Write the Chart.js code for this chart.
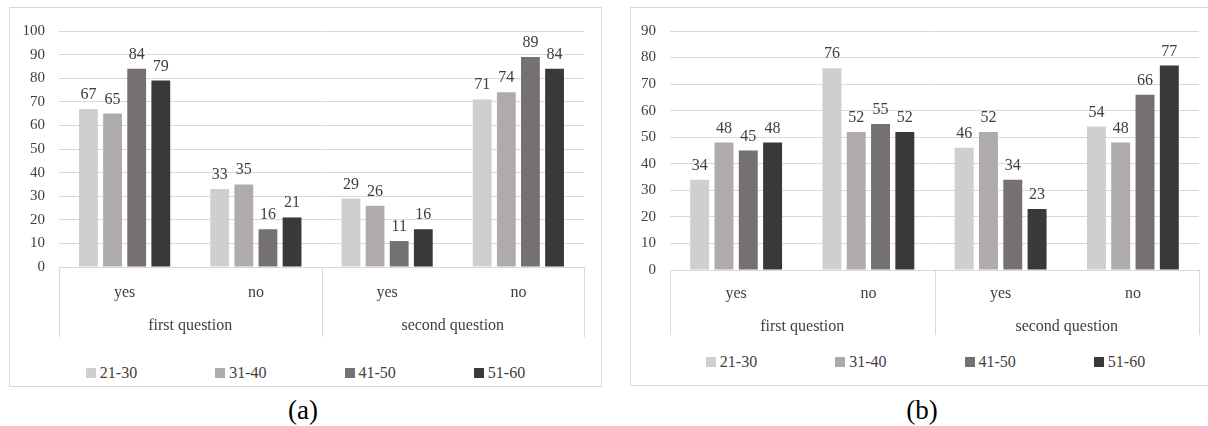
<!DOCTYPE html>
<html><head><meta charset="utf-8">
<script src="https://cdn.jsdelivr.net/npm/chart.js@4"></script>
<style>
body{margin:0;width:1208px;height:426px;overflow:hidden;background:#fff;font-family:"Liberation Serif",serif;position:relative;}
.box{position:absolute;border:1px solid #d9d9d9;box-sizing:border-box;background:#fff;}
.box canvas{position:absolute;left:0;top:0;}
.legend{position:absolute;left:0;right:0;display:flex;justify-content:center;gap:78px;font-family:"Liberation Serif",serif;font-size:16px;line-height:18px;color:#404040;}
.item{display:flex;align-items:center;}
.sw{width:10px;height:10px;margin-right:4px;}
.cap{position:absolute;font-family:"Liberation Serif",serif;font-size:27px;line-height:30px;color:#000;transform:translateX(-50%);}
</style></head>
<body>
<div class="box" id="boxA" style="left:9px;top:7px;width:593px;height:380px;">
  <canvas id="cA" width="590" height="335"></canvas>
  <div class="legend" id="legA" style="top:356px;"></div>
</div>
<div class="box" id="boxB" style="left:630px;top:7px;width:591px;height:379px;">
  <canvas id="cB" width="589" height="333"></canvas>
  <div class="legend" id="legB" style="top:345px;"></div>
</div>
<div class="cap" style="left:303px;top:395px;">(a)</div>
<div class="cap" style="left:922px;top:395px;">(b)</div>
<script>
const categories = ["yes", "no", "yes", "no"];
const questionGroups = ["first question", "second question"];
const seriesNames = ["21-30", "31-40", "41-50", "51-60"];
const seriesColors = ["#d0cece", "#afabab", "#767171", "#3b3838"];

const valuesA_21_30 = [67, 33, 29, 71];
const valuesA_31_40 = [65, 35, 26, 74];
const valuesA_41_50 = [84, 16, 11, 89];
const valuesA_51_60 = [79, 21, 16, 84];

const valuesB_21_30 = [34, 76, 46, 54];
const valuesB_31_40 = [48, 52, 52, 48];
const valuesB_41_50 = [45, 55, 34, 66];
const valuesB_51_60 = [48, 52, 23, 77];

const yMaxA = 100, yMaxB = 90, yStep = 10;

const textColor = "#404040";
const gridColor = "#d9d9d9";
const FONT = "'Liberation Serif', serif";

const valueLabels = {
  id: "valueLabels",
  afterDatasetsDraw(chart) {
    const ctx = chart.ctx;
    ctx.save();
    ctx.font = "16px " + FONT;
    ctx.fillStyle = textColor;
    ctx.textAlign = "center";
    ctx.textBaseline = "alphabetic";
    chart.data.datasets.forEach((ds, i) => {
      chart.getDatasetMeta(i).data.forEach((el, j) => {
        ctx.fillText(String(ds.data[j]), el.x, el.y - 10);
      });
    });
    ctx.restore();
  }
};

const separators = {
  id: "separators",
  afterDraw(chart) {
    const x = chart.scales.x, x2 = chart.scales.x2;
    const ctx = chart.ctx;
    const mid = (x.getPixelForTick(1) + x.getPixelForTick(2)) / 2;
    const xs = [chart.chartArea.left, mid, chart.chartArea.right];
    ctx.save();
    ctx.strokeStyle = gridColor;
    ctx.lineWidth = 1;
    xs.forEach(px => {
      const p = Math.round(px) + 0.5;
      ctx.beginPath();
      ctx.moveTo(p, x.top);
      ctx.lineTo(p, x2.bottom);
      ctx.stroke();
    });
    ctx.restore();
  }
};

function makeChart(id, series, yMax, opts) {
  return new Chart(document.getElementById(id), {
    type: "bar",
    data: {
      labels: categories,
      datasets: series.map((d, i) => ({
        label: seriesNames[i],
        data: d,
        backgroundColor: seriesColors[i],
        categoryPercentage: 0.735,
        barPercentage: 0.78
      }))
    },
    options: {
      responsive: false,
      animation: false,
      events: [],
      layout: { padding: { left: 9, right: opts.padRight, top: 18, bottom: 6 } },
      plugins: { legend: { display: false }, tooltip: { enabled: false } },
      scales: {
        y: {
          min: 0, max: yMax,
          afterFit(s) { s.width = opts.yWidth; },
          ticks: { stepSize: yStep, padding: 14, color: textColor, font: { family: FONT, size: 15 } },
          grid: { color: gridColor, drawTicks: false },
          border: { display: false }
        },
        x: {
          position: "bottom", weight: 0,
          afterFit(s) { s.height = opts.xH; },
          ticks: { padding: opts.xPad, color: textColor, font: { family: FONT, size: 16 } },
          grid: { display: true, drawOnChartArea: false, drawTicks: false },
          border: { display: true, color: gridColor }
        },
        x2: {
          type: "category", position: "bottom", weight: 1,
          labels: questionGroups,
          afterFit(s) { s.height = opts.x2H; },
          ticks: { padding: opts.x2Pad, color: textColor, font: { family: FONT, size: 16 } },
          grid: { display: false, drawTicks: false },
          border: { display: false }
        }
      }
    },
    plugins: [valueLabels, separators]
  });
}

makeChart("cA", [valuesA_21_30, valuesA_31_40, valuesA_41_50, valuesA_51_60], yMaxA,
  { padRight: 16, yWidth: 40, xH: 40, x2H: 30, xPad: 16, x2Pad: 9 });
makeChart("cB", [valuesB_21_30, valuesB_31_40, valuesB_41_50, valuesB_51_60], yMaxB,
  { padRight: 21, yWidth: 30, xH: 38, x2H: 27, xPad: 14, x2Pad: 9 });

function buildLegend(id) {
  const el = document.getElementById(id);
  seriesNames.forEach((n, i) => {
    const it = document.createElement("div");
    it.className = "item";
    const sw = document.createElement("span");
    sw.className = "sw";
    sw.style.background = seriesColors[i];
    const t = document.createElement("span");
    t.textContent = n;
    it.appendChild(sw); it.appendChild(t);
    el.appendChild(it);
  });
}
buildLegend("legA");
buildLegend("legB");
</script>
</body></html>
